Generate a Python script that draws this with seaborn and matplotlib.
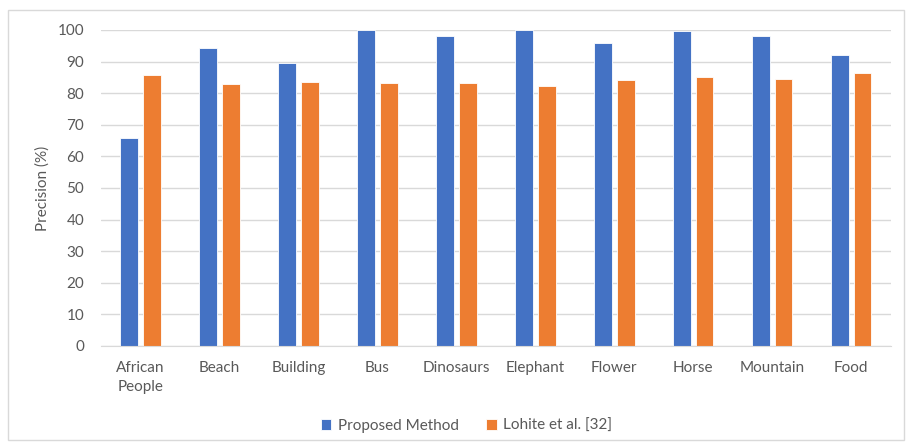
import seaborn as sns
import pandas as pd
import matplotlib.pyplot as plt
from matplotlib.patches import Rectangle

# data
categories = ['African\nPeople', 'Beach', 'Building', 'Bus', 'Dinosaurs',
              'Elephant', 'Flower', 'Horse', 'Mountain', 'Food']
proposed = [65.8, 94.2, 89.7, 100.0, 98.2, 100.0, 95.9, 99.6, 98.2, 92.0]
lohite = [85.8, 82.8, 83.6, 83.1, 83.1, 82.2, 84.2, 85.0, 84.5, 86.3]
series_names = ['Proposed Method', 'Lohite et al. [32]']
yticks = list(range(0, 101, 10))

df = pd.DataFrame({
    'category': categories * 2,
    'value': proposed + lohite,
    'series': [series_names[0]] * len(categories) + [series_names[1]] * len(categories),
})

sns.set_style('white')
plt.rcParams['font.family'] = ['Lato', 'DejaVu Sans']

text_col = '#595959'
fs = 11
fig = plt.figure(figsize=(9.09, 4.45), dpi=100)
ax = fig.add_axes([0.111, 0.2225, 0.869, 0.7101])

sns.barplot(data=df, x='category', y='value', hue='series',
            palette=['#4472C4', '#ED7D31'], saturation=1, width=0.567, gap=0.2,
            edgecolor='white', linewidth=0.6, ax=ax, legend=True)

ax.set_ylim(0, 100)
ax.set_xlim(-0.5, len(categories) - 0.5)
ax.set_yticks(yticks)
ax.yaxis.grid(True, color='#D9D9D9', linewidth=1)
ax.set_axisbelow(True)
for s in ['top', 'right', 'left']:
    ax.spines[s].set_visible(False)
ax.spines['bottom'].set_color('#D9D9D9')
ax.tick_params(axis='y', length=0, labelsize=fs, labelcolor=text_col, pad=12)
ax.tick_params(axis='x', length=0, labelsize=fs, labelcolor=text_col, pad=11)
for lbl in ax.get_xticklabels():
    lbl.set_linespacing(1.45)
ax.set_xlabel('')
ax.set_ylabel('Precision (%)', fontsize=fs, color=text_col, labelpad=6)

leg = ax.legend(loc='center', bbox_to_anchor=(0.513, 0.043), bbox_transform=fig.transFigure,
                ncol=2, frameon=False, fontsize=fs, handlelength=0.7, handleheight=0.7,
                columnspacing=1.8, handletextpad=0.4)
for t in leg.get_texts():
    t.set_color(text_col)

# outer chart border
fig.patches.append(Rectangle((0.009, 0.012), 0.985, 0.966, transform=fig.transFigure,
                             fill=False, edgecolor='#D9D9D9', linewidth=1))

fig.savefig('out.png', dpi=100)
